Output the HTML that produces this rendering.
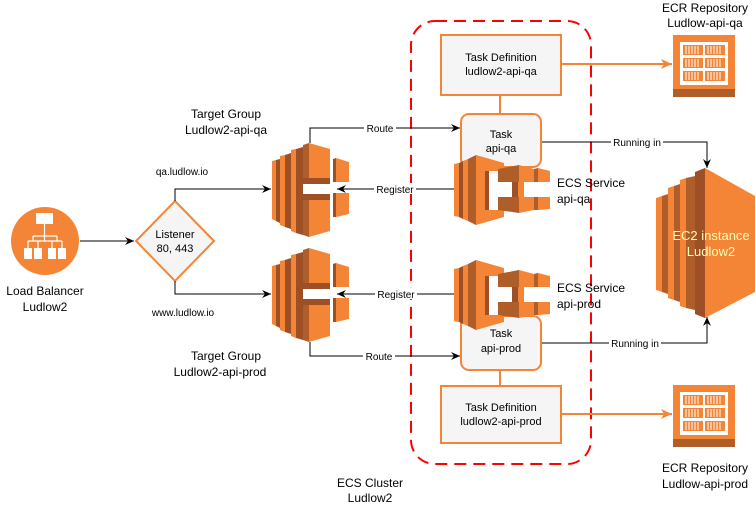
<!DOCTYPE html>
<html><head><meta charset="utf-8"><style>
html,body{margin:0;padding:0;background:#fff;}
svg{display:block;font-family:"Liberation Sans",Arial,sans-serif;}
</style></head><body>
<svg width="756" height="508" viewBox="0 0 756 508" xmlns="http://www.w3.org/2000/svg">
<defs>
<marker id="ab" markerWidth="10" markerHeight="10" refX="9" refY="5" orient="auto" markerUnits="userSpaceOnUse"><path d="M0,1 L9,5 L0,9 L3,5 z" fill="#000"/></marker>
<marker id="ao" markerWidth="12" markerHeight="12" refX="11" refY="6" orient="auto" markerUnits="userSpaceOnUse"><path d="M0,1 L11,6 L0,11 L3,6 z" fill="#f58536"/></marker>
<g id="tg">
<polygon points="0,16 4,15 4,76 0,74" fill="#f58536"/>
<polygon points="4,15 8,14 8,78 4,76" fill="#9d5025"/>
<polygon points="8,11 13,10 13,82 8,80" fill="#f58536"/>
<polygon points="13,10 19,8 19,84 13,82" fill="#9d5025"/>
<polygon points="19,5 24,4 24,88 19,86" fill="#f58536"/>
<polygon points="24,4 31,2 31,90 24,88" fill="#9d5025"/>
<polygon points="31,0 37,-2 37,39 31,39" fill="#b05e29"/>
<polygon points="37,-2 58,4 58,39 37,39" fill="#f58536"/>
<polygon points="31,39 58,39 58,33 31,33" fill="#9d5025"/>
<polygon points="31,49 37,49 37,92 31,90" fill="#b05e29"/>
<polygon points="37,49 58,49 58,86 37,92" fill="#f58536"/>
<polygon points="31,49 58,49 58,55 31,55" fill="#9d5025"/>
<polygon points="61,14 64,13 64,37 61,37" fill="#9d5025"/>
<polygon points="64,13 77,17 77,37 64,37" fill="#f58536"/>
<polygon points="61,48 64,48 64,72 61,72" fill="#9d5025"/>
<polygon points="64,48 77,48 77,69 64,72" fill="#f58536"/>
</g>
<g id="ecs">
<polygon points="0,9 5,8 5,62 0,61" fill="#f58536"/>
<polygon points="5,8 9,6 9,64 5,62" fill="#9d5025"/>
<polygon points="9,6 14,4 14,66 9,64" fill="#f58536"/>
<polygon points="14,4 22,0 22,70 14,66" fill="#b05e29"/>
<polygon points="22,0 50,8 50,16 31,16 31,55 50,55 50,62 22,70" fill="#f58536"/>
<rect x="31" y="16" width="14" height="39" fill="#fff"/>
<polygon points="31,16 35,16 35,55 31,55" fill="#9d5025"/>
<polygon points="44,14 65,10 65,27 44,27" fill="#b05e29"/>
<polygon points="65,10 80,14 80,27 65,27" fill="#f58536"/>
<polygon points="80,14 84,13 84,27 80,27" fill="#b05e29"/>
<polygon points="84,13 96,16 96,27 84,27" fill="#f58536"/>
<polygon points="58,27 64,27 64,42 58,42" fill="#9d5025"/>
<polygon points="64,27 70,27 70,42 64,42" fill="#f58536"/>
<polygon points="44,42 65,42 65,58 44,55" fill="#b05e29"/>
<polygon points="65,42 80,42 80,55 65,58" fill="#f58536"/>
<polygon points="80,42 84,42 84,55 80,55" fill="#b05e29"/>
<polygon points="84,42 96,42 96,54 84,55" fill="#f58536"/>
</g>
<g id="ecr">
<rect x="0" y="0" width="62" height="62" fill="#f58536"/>
<rect x="0" y="54" width="62" height="8" fill="#b05e29"/>
<rect x="7" y="7" width="48" height="43" fill="#fff"/>
<g fill="#f58536">
<rect x="10" y="10" width="20" height="10"/><rect x="32" y="10" width="20" height="10"/>
<rect x="10" y="23" width="20" height="10"/><rect x="32" y="23" width="20" height="10"/>
<rect x="10" y="36" width="20" height="10"/><rect x="32" y="36" width="20" height="10"/>
</g>
<g stroke="#fff" stroke-width="1">
<path d="M13,11v8M16,11v8M19,11v8M22,11v8M25,11v8M35,11v8M38,11v8M41,11v8M44,11v8M47,11v8M13,24v8M16,24v8M19,24v8M22,24v8M25,24v8M35,24v8M38,24v8M41,24v8M44,24v8M47,24v8M13,37v8M16,37v8M19,37v8M22,37v8M25,37v8M35,37v8M38,37v8M41,37v8M44,37v8M47,37v8"/>
</g>
</g>
</defs>

<rect x="411" y="21" width="180" height="443" rx="24" fill="none" stroke="#f00" stroke-width="2" stroke-dasharray="12,7"/>
<text x="370" y="487" font-size="12" text-anchor="middle">ECS Cluster</text>
<text x="370" y="502" font-size="12" text-anchor="middle">Ludlow2</text>

<circle cx="45" cy="241" r="34" fill="#f58536"/>
<g fill="#fff">
<rect x="36" y="213" width="17" height="11"/>
<rect x="24" y="248" width="8" height="11"/><rect x="34" y="248" width="8" height="11"/>
<rect x="48" y="248" width="8" height="11"/><rect x="58" y="248" width="8" height="11"/>
</g>
<path d="M44.5,224v8M28,241v7M38,241v7M52,241v7M62,241v7M28,241h34M44.5,232v9M33,236h24M33,236v5M57,236v5" stroke="#fff" stroke-width="1.2" fill="none"/>
<text x="45" y="295" font-size="12" text-anchor="middle">Load Balancer</text>
<text x="45" y="311" font-size="12" text-anchor="middle">Ludlow2</text>

<line x1="80" y1="241" x2="134" y2="241" stroke="#000" marker-end="url(#ab)"/>

<polygon points="175,201 214,241 175,281 136,241" fill="#f5f5f5" stroke="#f58536" stroke-width="2"/>
<text x="175" y="238" font-size="11" text-anchor="middle">Listener</text>
<text x="175" y="252" font-size="11" text-anchor="middle">80, 443</text>
<text x="182" y="175" font-size="10" text-anchor="middle">qa.ludlow.io</text>
<text x="183" y="316" font-size="10" text-anchor="middle">www.ludlow.io</text>
<path d="M175,201V189H271" fill="none" stroke="#000" marker-end="url(#ab)"/>
<path d="M175,281V294H271" fill="none" stroke="#000" marker-end="url(#ab)"/>

<use href="#tg" x="272" y="145"/>
<use href="#tg" x="272" y="250"/>
<text x="226" y="118" font-size="12" text-anchor="middle">Target Group</text>
<text x="226" y="134" font-size="12" text-anchor="middle">Ludlow2-api-qa</text>
<text x="226" y="360" font-size="12" text-anchor="middle">Target Group</text>
<text x="220" y="376" font-size="12" text-anchor="middle">Ludlow2-api-prod</text>

<path d="M310,143V128H460" fill="none" stroke="#000" marker-end="url(#ab)"/>
<rect x="364" y="122" width="32" height="11" fill="#fff"/>
<text x="380" y="132" font-size="10" text-anchor="middle">Route</text>
<path d="M310,342V356H460" fill="none" stroke="#000" marker-end="url(#ab)"/>
<rect x="363" y="350" width="32" height="11" fill="#fff"/>
<text x="379" y="360" font-size="10" text-anchor="middle">Route</text>
<line x1="454" y1="189" x2="337" y2="189" stroke="#000" marker-end="url(#ab)"/>
<rect x="374" y="183" width="42" height="11" fill="#fff"/>
<text x="395" y="193" font-size="10" text-anchor="middle">Register</text>
<line x1="454" y1="294" x2="337" y2="294" stroke="#000" marker-end="url(#ab)"/>
<rect x="375" y="288" width="42" height="11" fill="#fff"/>
<text x="396" y="298" font-size="10" text-anchor="middle">Register</text>

<line x1="500" y1="95" x2="500" y2="114" stroke="#f58536" stroke-width="2"/>
<line x1="500" y1="370" x2="500" y2="386" stroke="#f58536" stroke-width="2"/>
<rect x="441" y="35" width="120" height="60" fill="#f5f5f5" stroke="#f58536" stroke-width="2"/>
<text x="501" y="61" font-size="11" text-anchor="middle">Task Definition</text>
<text x="501" y="75" font-size="11" text-anchor="middle">ludlow2-api-qa</text>
<rect x="441" y="386" width="120" height="57" fill="#f5f5f5" stroke="#f58536" stroke-width="2"/>
<text x="501" y="411" font-size="11" text-anchor="middle">Task Definition</text>
<text x="501" y="425" font-size="11" text-anchor="middle">ludlow2-api-prod</text>
<line x1="561" y1="64" x2="672" y2="64" stroke="#f58536" stroke-width="2" marker-end="url(#ao)"/>
<line x1="561" y1="414" x2="672" y2="414" stroke="#f58536" stroke-width="2" marker-end="url(#ao)"/>

<path d="M541,142H707V168" fill="none" stroke="#000" marker-end="url(#ab)"/>
<rect x="611" y="136" width="52" height="11" fill="#fff"/>
<text x="637" y="146" font-size="10" text-anchor="middle">Running in</text>
<path d="M541,343H707V317" fill="none" stroke="#000" marker-end="url(#ab)"/>
<rect x="609" y="337" width="52" height="11" fill="#fff"/>
<text x="635" y="347" font-size="10" text-anchor="middle">Running in</text>

<rect x="461" y="114" width="80" height="53" rx="8" fill="#f5f5f5" stroke="#f58536" stroke-width="2"/>
<text x="501" y="138" font-size="11" text-anchor="middle">Task</text>
<text x="501" y="152" font-size="11" text-anchor="middle">api-qa</text>
<rect x="461" y="316" width="80" height="54" rx="8" fill="#f5f5f5" stroke="#f58536" stroke-width="2"/>
<text x="501" y="337" font-size="11" text-anchor="middle">Task</text>
<text x="501" y="352" font-size="11" text-anchor="middle">api-prod</text>

<use href="#ecs" x="454" y="155"/>
<use href="#ecs" x="454" y="260"/>
<text x="557" y="187" font-size="12">ECS Service</text>
<text x="557" y="203" font-size="12">api-qa</text>
<text x="557" y="292" font-size="12">ECS Service</text>
<text x="557" y="308" font-size="12">api-prod</text>

<polygon points="656,198 662,196 662,292 656,290" fill="#f58536"/>
<polygon points="662,196 668,194 668,294 662,292" fill="#b05e29"/>
<polygon points="668,188 674,186 674,300 668,298" fill="#f58536"/>
<polygon points="674,186 680,184 680,302 674,300" fill="#b05e29"/>
<polygon points="680,180 686,178 686,308 680,306" fill="#f58536"/>
<polygon points="686,178 695,176 695,310 686,308" fill="#b05e29"/>
<polygon points="695,172 705,168 705,318 695,314" fill="#9d5025"/>
<polygon points="705,168 755,196 755,292 705,318" fill="#f58536"/>
<text x="711" y="240" font-size="13" fill="#ffffb0" text-anchor="middle">EC2 instance</text>
<text x="711" y="256" font-size="13" fill="#ffffb0" text-anchor="middle">Ludlow2</text>

<use href="#ecr" x="673" y="35"/>
<use href="#ecr" x="673" y="385"/>
<text x="705" y="12" font-size="12" text-anchor="middle">ECR Repository</text>
<text x="705" y="27" font-size="12" text-anchor="middle">Ludlow-api-qa</text>
<text x="705" y="472" font-size="12" text-anchor="middle">ECR Repository</text>
<text x="705" y="488" font-size="12" text-anchor="middle">Ludlow-api-prod</text>
</svg>
</body></html>
